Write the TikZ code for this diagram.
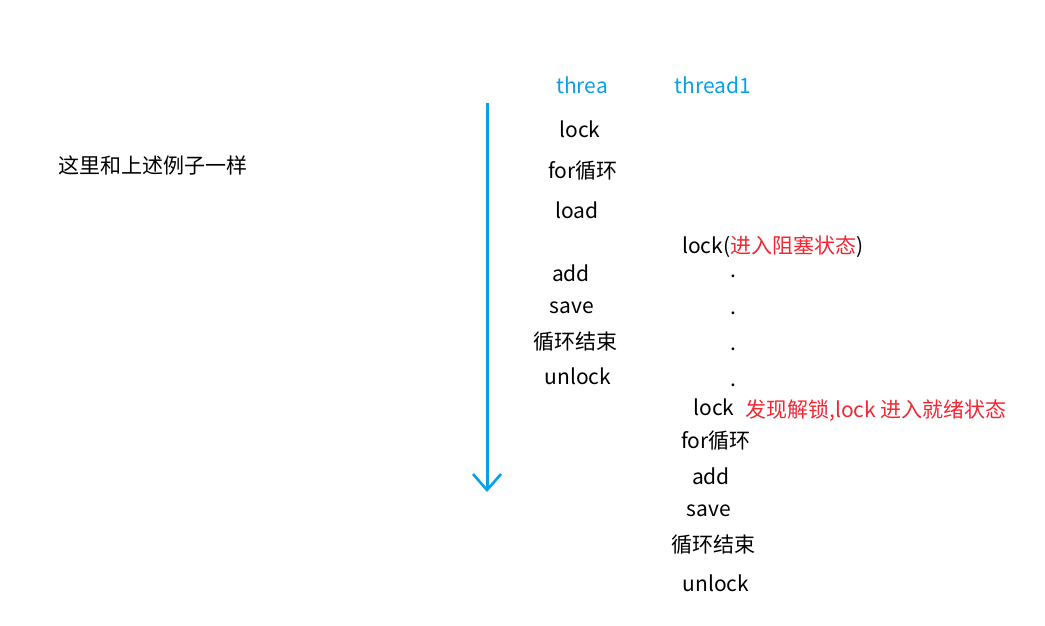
\documentclass[tikz,border=0pt]{standalone}
\usepackage{fontspec}
\setmainfont{Noto Sans CJK SC}
\usetikzlibrary{arrows.meta}
\definecolor{tblue}{RGB}{10,160,230}
\definecolor{tred}{RGB}{240,40,50}
\begin{document}
\begin{tikzpicture}[x=1pt,y=-1pt,
  lbl/.style={font=\fontsize{21}{25}\selectfont, inner sep=0pt, anchor=center},
  head/.style={lbl, text=tblue}]
\useasboundingbox[fill=white] (0,0) rectangle (1045,626);
\node[lbl] (note) at (153,165) {这里和上述例子一样};
\coordinate (as) at (487,103);
\coordinate (ae) at (487,492);
\draw[tblue, line width=3pt, -{Straight Barb[length=16pt,width=28pt,line width=2.6pt]}] (as) -- (ae);
\node[head] (ta) at (582,85) {threa};
\node[head] (tb) at (713,85) {thread1};
\node[lbl] (a1) at (580,129) {lock};
\node[lbl] (a2) at (583,171) {for循环};
\node[lbl] (a3) at (577,210) {load};
\node[lbl] (a4) at (571,273) {add};
\node[lbl] (a5) at (572,308) {save};
\node[lbl] (a6) at (575,342) {循环结束};
\node[lbl] (a7) at (578,376) {unlock};
\node[lbl, anchor=west] (b1) at (682,247) {lock(\textcolor{tred}{进入阻塞状态})};
\node[lbl] (d1) at (733,276) {.};
\node[lbl] (d2) at (733,313) {.};
\node[lbl] (d3) at (733,349) {.};
\node[lbl] (d4) at (733,385) {.};
\node[lbl] (b2) at (714,407) {lock};
\node[lbl, anchor=west, text=tred] (b2n) at (745,411) {发现解锁,lock 进入就绪状态};
\node[lbl] (b3) at (716,441) {for循环};
\node[lbl] (b4) at (711,476) {add};
\node[lbl] (b5) at (709,511) {save};
\node[lbl] (b6) at (713,545) {循环结束};
\node[lbl] (b7) at (716,583) {unlock};
\end{tikzpicture}
\end{document}
